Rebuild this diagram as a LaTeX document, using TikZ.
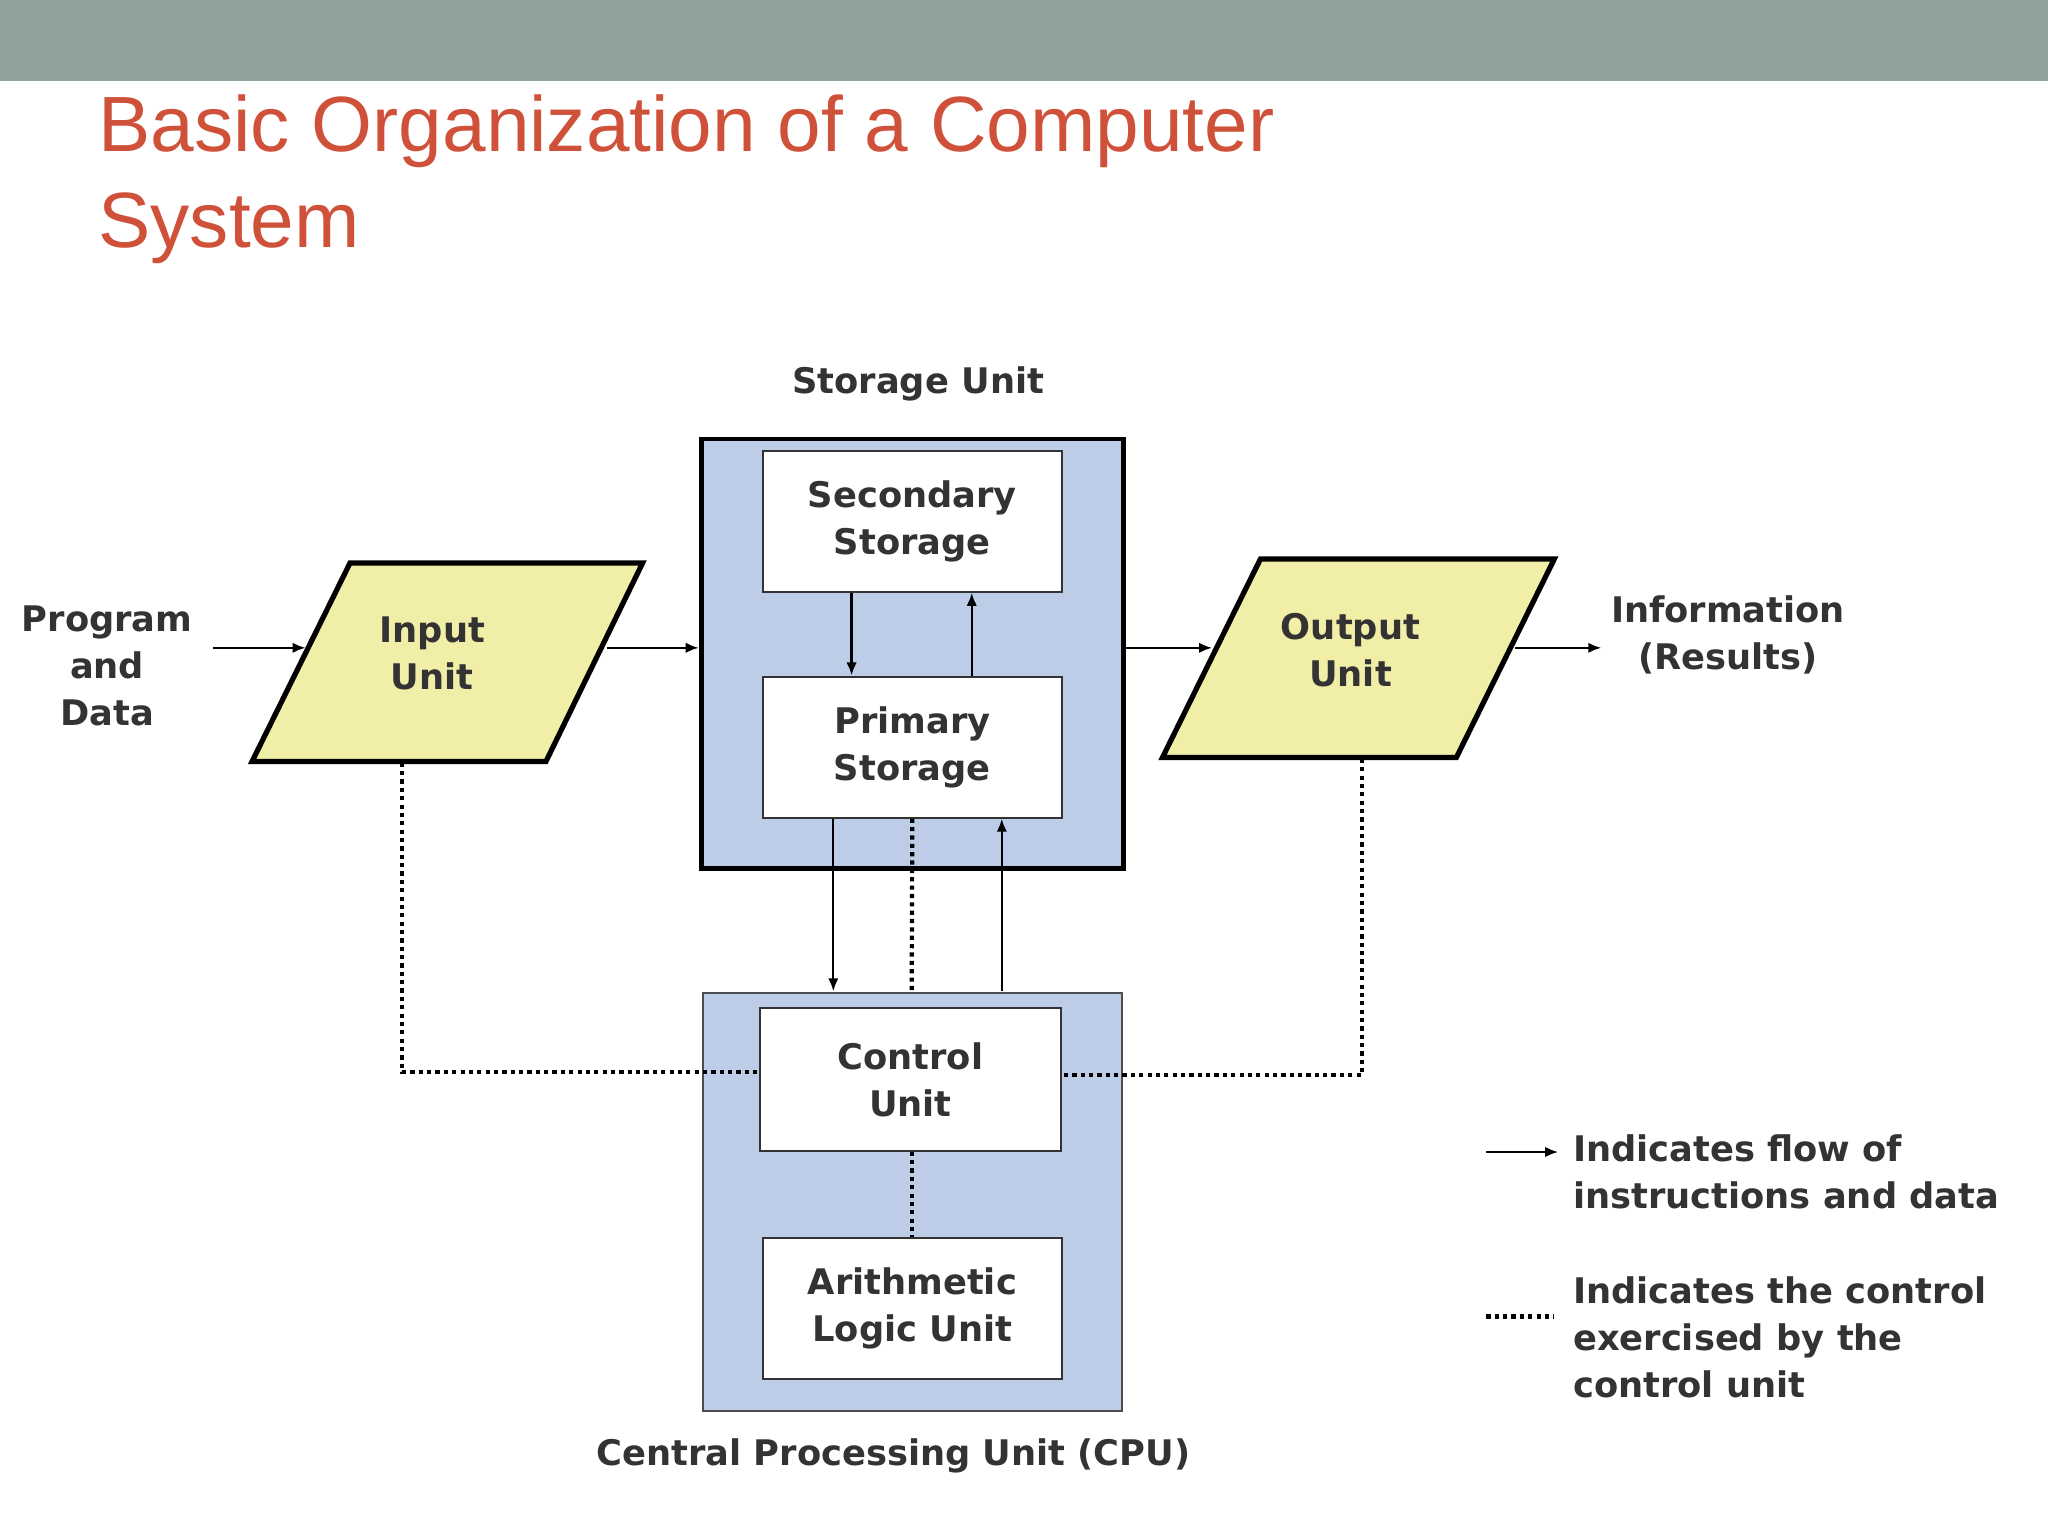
\documentclass[tikz,border=0pt]{standalone}
\usepackage{fontspec}
\setmainfont{DejaVu Sans}
\newfontfamily\titlefont{Liberation Sans}
\usetikzlibrary{arrows.meta,shapes.geometric}
\definecolor{bar}{HTML}{8FA39A}
\definecolor{ttl}{HTML}{D0513A}
\definecolor{blu}{HTML}{BDCDE7}
\definecolor{yel}{HTML}{F1EEA8}
\definecolor{txt}{HTML}{333333}
\begin{document}
\begin{tikzpicture}[x=0.5pt,y=-0.5pt,
 lbl/.style={text=txt,font=\fontsize{13.5}{18}\selectfont\bfseries,align=center,inner sep=0},
 box/.style={draw=black!80,line width=0.8pt,fill=white},
 arr/.style={-{Latex[length=5pt,width=4pt]},line width=0.9pt},
 dot/.style={line width=1.6pt,dash pattern=on 1.6pt off 1.6pt}]
\useasboundingbox (0,0) rectangle (1568,1176);
\fill[white] (0,0) rectangle (1568,1176);
\fill[bar] (0,0) rectangle (1568,62);
\node[anchor=north west,text=ttl,font=\titlefont\fontsize{30}{37}\selectfont,align=left,inner sep=0] (title) at (75,72) {Basic Organization of a Computer\\System};
% storage
\node[lbl] (su) at (703,294) {Storage Unit};
\draw[line width=1.8pt,fill=blu] (537,336) rectangle (860,665);
\node[box,minimum width=114.5pt,minimum height=54pt,lbl] (sec) at (698.5,399) {Secondary\\Storage};
\node[box,minimum width=114.5pt,minimum height=54pt,lbl] (pri) at (698.5,572) {Primary\\Storage};
% cpu
\draw[line width=0.8pt,draw=black!70,fill=blu] (538,760) rectangle (859,1080);
\node[box,minimum width=115pt,minimum height=54.5pt,lbl] (cu) at (697,826.5) {Control\\Unit};
\node[box,minimum width=114.5pt,minimum height=54pt,lbl] (alu) at (698.5,1002) {Arithmetic\\Logic Unit};
\node[lbl] (cpu) at (684,1115) {Central Processing Unit (CPU)};
% parallelograms
\draw[line width=2pt,fill=yel] (193,583)--(268,431)--(492,431)--(418,583)--cycle;
\node[lbl] (in) at (331,500) {Input\\Unit};
\draw[line width=2pt,fill=yel] (890,580)--(965,428)--(1190,428)--(1115,580)--cycle;
\node[lbl] (out) at (1034,498) {Output\\Unit};
\node[lbl] (pd) at (82,510) {Program\\and\\Data};
\node[lbl] (info) at (1323,486) {Information\\(Results)};
% coordinates
\coordinate (a1) at (163,496); \coordinate (a2) at (234,496);
\coordinate (b1) at (465,496); \coordinate (b2) at (535,496);
\coordinate (c1) at (861,496); \coordinate (c2) at (928,496);
\coordinate (d1) at (1160,496); \coordinate (d2) at (1226,496);
\draw[arr] (a1)--(a2); \draw[arr] (b1)--(b2); \draw[arr] (c1)--(c2); \draw[arr] (d1)--(d2);
\draw[arr] (sec.south -| 652,0)--(pri.north -| 652,0);
\draw[arr] (pri.north -| 744,0)--(sec.south -| 744,0);
\draw[arr] (pri.south -| 638,0)--(638,759);
\draw[arr] (767,759)--(pri.south -| 767,0);
\draw[dot] (pri.south)--(698,760);
\draw[dot] (cu.south -| 698,0)--(alu.north -| 698,0);
\coordinate (ib) at (308,584); \coordinate (ob) at (1043,581);
\draw[dot] (ib)--(308,821)--(cu.west |- 0,821);
\draw[dot] (ob)--(1043,823)--(cu.east |- 0,823);
% legend
\coordinate (l1) at (1138,882); \coordinate (l2) at (1193,882);
\draw[arr] (l1)--(l2);
\node[lbl,align=left,anchor=north west] (lt1) at (1204,868) {Indicates flow of\\instructions and data};
\coordinate (m1) at (1138,1008); \coordinate (m2) at (1190,1008);
\draw[dot] (m1)--(m2);
\node[lbl,align=left,anchor=north west] (lt2) at (1204,977) {Indicates the control\\exercised by the\\control unit};
\end{tikzpicture}
\end{document}
